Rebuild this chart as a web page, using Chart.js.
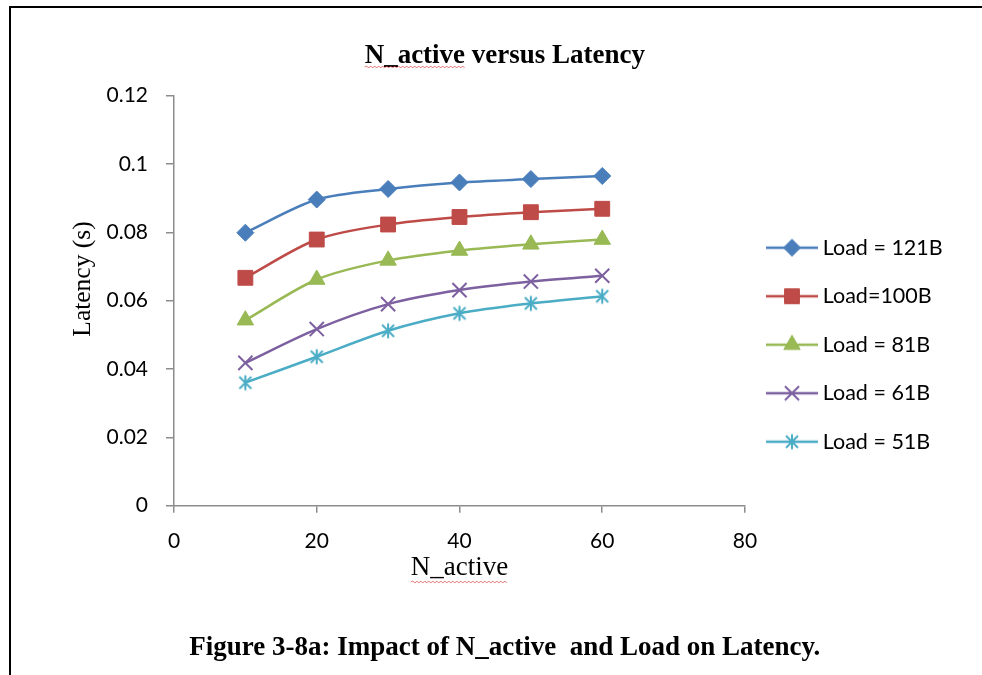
<!DOCTYPE html>
<html lang="en">
<head>
    <meta charset="UTF-8">
    <title>N_active versus Latency</title>
    <script src="https://cdn.jsdelivr.net/npm/chart.js"></script>
    <style>
        html, body {
            margin: 0;
            padding: 0;
            background: #ffffff;
        }
        .chart-container {
            position: absolute;
            left: 0;
            top: 0;
            width: 982px;
            height: 675px;
        }
        .frame {
            position: absolute;
            left: 9px;
            top: 6px;
            right: 0;
            bottom: 0;
            border-top: 2px solid #000;
            border-left: 2px solid #000;
            pointer-events: none;
        }
    </style>
</head>
<body>
    <div class="chart-container">
        <canvas id="latencyChart"></canvas>
    </div>
    <div class="frame"></div>

    <script>
        // N_active values on the x axis
        const nActive = [10, 20, 30, 40, 50, 60];

        // latency (s) for each load size
        const load121 = [0.0799, 0.0896, 0.0927, 0.0946, 0.0956, 0.0965];
        const load100 = [0.0667, 0.0779, 0.0823, 0.0845, 0.0859, 0.0869];
        const load81  = [0.0543, 0.0662, 0.0718, 0.0747, 0.0765, 0.0779];
        const load61  = [0.0418, 0.0517, 0.0590, 0.0631, 0.0656, 0.0673];
        const load51  = [0.0360, 0.0436, 0.0512, 0.0563, 0.0592, 0.0613];

        const seriesNames = ['Load = 121B', 'Load=100B', 'Load = 81B', 'Load = 61B', 'Load = 51B'];

        const xTickValues = [0, 20, 40, 60, 80];
        const xTickLabels = ['0', '20', '40', '60', '80'];
        const yTickValues = [0, 0.02, 0.04, 0.06, 0.08, 0.1, 0.12];
        const yTickLabels = ['0', '0.02', '0.04', '0.06', '0.08', '0.1', '0.12'];

        const tickFont = { family: 'Lato', size: 21 };
        const legendFont = { family: 'Lato', size: 21.5 };
        const serifFont = 'Liberation Serif';
        const axisGrey = '#8c8c8c';

        // asterisk marker (vertical bar plus an X)
        function makeStar(color, size) {
            const c = document.createElement('canvas');
            c.width = size;
            c.height = size;
            const g = c.getContext('2d');
            const m = size / 2;
            const r = size / 2 - 1.5;
            g.strokeStyle = color;
            g.lineWidth = 2;
            g.beginPath();
            g.moveTo(m, m - r); g.lineTo(m, m + r);
            g.moveTo(m - r * 0.8, m - r * 0.8); g.lineTo(m + r * 0.8, m + r * 0.8);
            g.moveTo(m + r * 0.8, m - r * 0.8); g.lineTo(m - r * 0.8, m + r * 0.8);
            g.stroke();
            return c;
        }

        const styles = [
            { color: '#4a7ebb', point: 'rectRot', radius: 8.5 },
            { color: '#be4b48', point: 'rect', radius: 10.5 },
            { color: '#98b954', point: 'triangle', radius: 9.5 },
            { color: '#7d60a0', point: 'crossRot', radius: 10 },
            { color: '#4bacc6', point: makeStar('#4bacc6', 18), radius: 9 }
        ];

        // legend swatch: short line with the marker in the middle
        function makeSwatch(s) {
            const c = document.createElement('canvas');
            c.width = 52;
            c.height = 22;
            const g = c.getContext('2d');
            g.strokeStyle = s.color;
            g.lineWidth = 2.5;
            g.beginPath();
            g.moveTo(0, 11);
            g.lineTo(52, 11);
            g.stroke();
            if (typeof s.point === 'string') {
                g.fillStyle = s.color;
                g.lineWidth = s.point === 'crossRot' ? 2 : 1;
                Chart.helpers.drawPoint(g, { pointStyle: s.point, radius: s.radius, borderWidth: g.lineWidth, rotation: 0 }, 26, 11);
            } else {
                g.drawImage(s.point, 26 - s.point.width / 2, 11 - s.point.height / 2);
            }
            return c;
        }

        const allSeries = [load121, load100, load81, load61, load51];
        const datasets = allSeries.map((vals, i) => ({
            label: seriesNames[i],
            data: nActive.map((n, j) => ({ x: n, y: vals[j] })),
            borderColor: styles[i].color,
            backgroundColor: styles[i].color,
            borderWidth: 2.5,
            tension: 0.3,
            pointStyle: styles[i].point,
            pointRadius: styles[i].radius,
            pointHoverRadius: styles[i].radius,
            pointBorderWidth: styles[i].point === 'crossRot' ? 2 : 1,
            pointBackgroundColor: styles[i].color,
            pointBorderColor: styles[i].color
        }));

        // red squiggle under a word (spell-check mark)
        function squiggle(ctx, x0, x1, y) {
            ctx.save();
            ctx.strokeStyle = 'rgba(220, 60, 60, 0.7)';
            ctx.lineWidth = 1;
            ctx.beginPath();
            let up = true;
            ctx.moveTo(x0, y);
            for (let x = x0 + 2; x <= x1; x += 2) {
                ctx.lineTo(x, up ? y - 1 : y + 1);
                up = !up;
            }
            ctx.stroke();
            ctx.restore();
        }

        // rotated y axis caption and the squiggles under "N_active"
        const extrasPlugin = {
            id: 'extras',
            afterDraw(chart) {
                const ctx = chart.ctx;
                ctx.save();
                ctx.translate(83, 279);
                ctx.rotate(-Math.PI / 2);
                ctx.font = '25.5px "' + serifFont + '"';
                ctx.fillStyle = '#000';
                ctx.textAlign = 'center';
                ctx.textBaseline = 'middle';
                ctx.fillText('Latency (s)', 0, 0);
                ctx.restore();

                // title word
                const tb = chart.titleBlock;
                ctx.save();
                ctx.font = 'bold 27px "' + serifFont + '"';
                const full = ctx.measureText(tb.options.text).width;
                const word = ctx.measureText('N_active').width;
                ctx.restore();
                const tx = (tb.left + tb.right) / 2 - full / 2;
                squiggle(ctx, tx, tx + word, 67);

                // x axis title word
                const xs = chart.scales.x;
                ctx.save();
                ctx.font = '27px "' + serifFont + '"';
                const w2 = ctx.measureText('N_active').width;
                ctx.restore();
                const cx = (xs.left + xs.right) / 2;
                squiggle(ctx, cx - w2 / 2, cx + w2 / 2, 582);
            }
        };

        const config = {
            type: 'line',
            data: { datasets: datasets },
            options: {
                responsive: true,
                maintainAspectRatio: false,
                animation: false,
                layout: {
                    padding: { left: 57, right: 29.3, top: 0, bottom: 0 }
                },
                scales: {
                    x: {
                        type: 'linear',
                        min: 0,
                        max: 80,
                        afterBuildTicks: (scale) => {
                            scale.ticks = xTickValues.map(v => ({ value: v }));
                        },
                        afterFit: (scale) => { scale.height = 106.1; },
                        grid: {
                            drawOnChartArea: false,
                            drawTicks: true,
                            tickLength: 7,
                            color: axisGrey,
                            lineWidth: 1.5
                        },
                        border: { display: true, color: axisGrey, width: 1.5 },
                        ticks: {
                            font: tickFont,
                            color: '#000',
                            padding: 16,
                            maxRotation: 0,
                            callback: (v, i) => xTickLabels[i]
                        },
                        title: {
                            display: true,
                            text: 'N_active',
                            font: { family: serifFont, size: 27 },
                            color: '#000',
                            padding: { top: 0, bottom: 27.6 }
                        }
                    },
                    y: {
                        min: 0,
                        max: 0.12,
                        afterBuildTicks: (scale) => {
                            scale.ticks = yTickValues.map(v => ({ value: v }));
                        },
                        afterFit: (scale) => { scale.width = 117; },
                        grid: {
                            drawOnChartArea: false,
                            drawTicks: true,
                            tickLength: 8,
                            color: axisGrey,
                            lineWidth: 1.5
                        },
                        border: { display: true, color: axisGrey, width: 1.5 },
                        ticks: {
                            font: tickFont,
                            color: '#000',
                            padding: 18,
                            callback: (v, i) => yTickLabels[i]
                        }
                    }
                },
                plugins: {
                    title: {
                        display: true,
                        text: 'N_active versus Latency',
                        font: { family: serifFont, size: 27, weight: 'bold' },
                        color: '#000',
                        padding: { top: 39.8, bottom: 23.5 }
                    },
                    subtitle: {
                        display: true,
                        position: 'bottom',
                        text: 'Figure 3-8a: Impact of N_active  and Load on Latency.',
                        font: { family: serifFont, size: 27, weight: 'bold' },
                        color: '#000',
                        padding: { top: 20, bottom: 10.8 }
                    },
                    legend: {
                        position: 'right',
                        align: 'start',
                        fullSize: false,
                        title: {
                            display: true,
                            text: '',
                            font: { size: 10, lineHeight: 1 },
                            padding: { top: 104.3, bottom: 0 }
                        },
                        labels: {
                            font: legendFont,
                            color: '#000',
                            padding: 27,
                            usePointStyle: true,
                            pointStyleWidth: 40,
                            generateLabels: (chart) => chart.data.datasets.map((ds, i) => ({
                                text: ds.label,
                                fontColor: '#000',
                                pointStyle: makeSwatch(styles[i]),
                                fillStyle: ds.borderColor,
                                strokeStyle: ds.borderColor,
                                lineWidth: 0,
                                hidden: false,
                                datasetIndex: i
                            }))
                        }
                    },
                    tooltip: { enabled: false }
                }
            },
            plugins: [extrasPlugin]
        };

        const ctx = document.getElementById('latencyChart').getContext('2d');
        const latencyChart = new Chart(ctx, config);
    </script>
</body>
</html>
